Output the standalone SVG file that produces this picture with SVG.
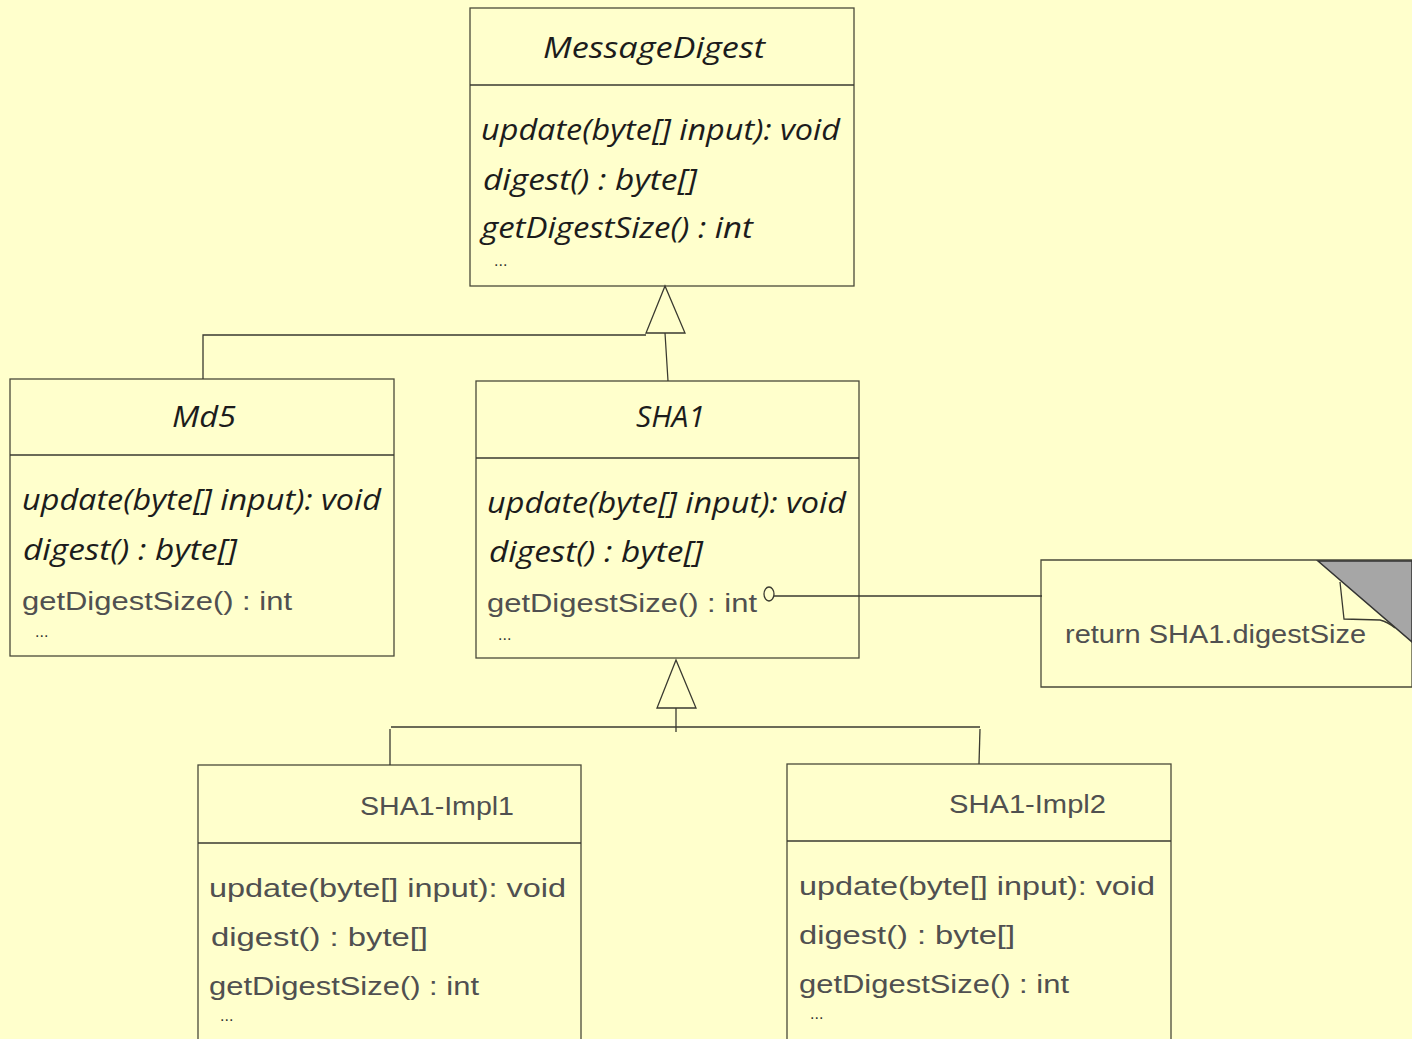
<svg xmlns="http://www.w3.org/2000/svg" width="1412" height="1039" viewBox="0 0 1412 1039">
<style>
.box{fill:#ffffcc;stroke:#4a4a3a;stroke-width:1.3}
.ln{fill:none;stroke:#3a3a30;stroke-width:1.3}
.it{font-family:"Open Sans","Noto Sans",sans-serif;font-style:italic;font-size:29px;fill:#1c1c1c}
.th{font-family:"Liberation Sans","DejaVu Sans",sans-serif;font-size:25px;fill:#505050}
.dots{font-family:"Liberation Sans",sans-serif;font-size:16px;fill:#333}
</style>
<rect x="0" y="0" width="1412" height="1039" fill="#ffffcc"/>
<g id="MessageDigest">
<rect class="box" x="470" y="8" width="384" height="278"/>
<line class="ln" x1="470" y1="85" x2="854" y2="85"/>
<text class="it" x="543" y="58" textLength="222" lengthAdjust="spacingAndGlyphs">MessageDigest</text>
<text class="it" x="481" y="140" textLength="359" lengthAdjust="spacingAndGlyphs">update(byte[] input): void</text>
<text class="it" x="483" y="190" textLength="214" lengthAdjust="spacingAndGlyphs">digest() : byte[]</text>
<text class="it" x="481" y="238" textLength="272" lengthAdjust="spacingAndGlyphs">getDigestSize() : int</text>
<text class="dots" x="494" y="266">...</text>
</g>
<g id="Md5">
<rect class="box" x="10" y="379" width="384" height="277"/>
<line class="ln" x1="10" y1="455" x2="394" y2="455"/>
<text class="it" x="172" y="427" textLength="64" lengthAdjust="spacingAndGlyphs">Md5</text>
<text class="it" x="22" y="510" textLength="359" lengthAdjust="spacingAndGlyphs">update(byte[] input): void</text>
<text class="it" x="23" y="560" textLength="214" lengthAdjust="spacingAndGlyphs">digest() : byte[]</text>
<text class="th" x="22" y="610" textLength="270" lengthAdjust="spacingAndGlyphs">getDigestSize() : int</text>
<text class="dots" x="35" y="637">...</text>
</g>
<g id="SHA1">
<rect class="box" x="476" y="381" width="383" height="277"/>
<line class="ln" x1="476" y1="458" x2="859" y2="458"/>
<text class="it" x="636" y="427" textLength="69" lengthAdjust="spacingAndGlyphs">SHA1</text>
<text class="it" x="487" y="513" textLength="359" lengthAdjust="spacingAndGlyphs">update(byte[] input): void</text>
<text class="it" x="489" y="562" textLength="214" lengthAdjust="spacingAndGlyphs">digest() : byte[]</text>
<text class="th" x="487" y="612" textLength="270" lengthAdjust="spacingAndGlyphs">getDigestSize() : int</text>
<text class="dots" x="498" y="640">...</text>
</g>
<g id="note">
<polygon class="box" points="1041,560 1412,560 1412,687 1041,687"/>
<polygon points="1318,561 1412,561 1412,642" fill="#a6a6a6" stroke="#333" stroke-width="1.5"/>
<path class="ln" d="M1340,582 L1344,619 L1380,620 Q1388,622 1395,628" stroke-width="1"/>
<text class="th" x="1065" y="643" textLength="301" lengthAdjust="spacingAndGlyphs">return SHA1.digestSize</text>
</g>
<g id="SHA1-Impl1">
<rect class="box" x="198" y="765" width="383" height="290"/>
<line class="ln" x1="198" y1="843" x2="581" y2="843"/>
<text class="th" x="360" y="815" textLength="154" lengthAdjust="spacingAndGlyphs">SHA1-Impl1</text>
<text class="th" x="209" y="897" textLength="357" lengthAdjust="spacingAndGlyphs">update(byte[] input): void</text>
<text class="th" x="211" y="946" textLength="217" lengthAdjust="spacingAndGlyphs">digest() : byte[]</text>
<text class="th" x="209" y="995" textLength="270" lengthAdjust="spacingAndGlyphs">getDigestSize() : int</text>
<text class="dots" x="220" y="1021">...</text>
</g>
<g id="SHA1-Impl2">
<rect class="box" x="787" y="764" width="384" height="290"/>
<line class="ln" x1="787" y1="841" x2="1171" y2="841"/>
<text class="th" x="949" y="813" textLength="157" lengthAdjust="spacingAndGlyphs">SHA1-Impl2</text>
<text class="th" x="799" y="895" textLength="356" lengthAdjust="spacingAndGlyphs">update(byte[] input): void</text>
<text class="th" x="799" y="944" textLength="216" lengthAdjust="spacingAndGlyphs">digest() : byte[]</text>
<text class="th" x="799" y="993" textLength="270" lengthAdjust="spacingAndGlyphs">getDigestSize() : int</text>
<text class="dots" x="810" y="1019">...</text>
</g>
<g id="connectors">
<polygon class="ln" points="665,286 646,333 685,333" fill="#ffffcc"/>
<polyline class="ln" points="646,335 203,335 203,379"/>
<line class="ln" x1="665" y1="333" x2="668" y2="381"/>
<polygon class="ln" points="676,660 657,708 696,708" fill="#ffffcc"/>
<line class="ln" x1="676" y1="708" x2="676" y2="732"/>
<line class="ln" x1="391" y1="727" x2="980" y2="727"/>
<line class="ln" x1="390" y1="729" x2="390" y2="765"/>
<line class="ln" x1="980" y1="729" x2="979" y2="764"/>
<ellipse class="ln" cx="769" cy="594" rx="5" ry="7"/>
<line class="ln" x1="774" y1="596" x2="1042" y2="596"/>
</g>
</svg>
